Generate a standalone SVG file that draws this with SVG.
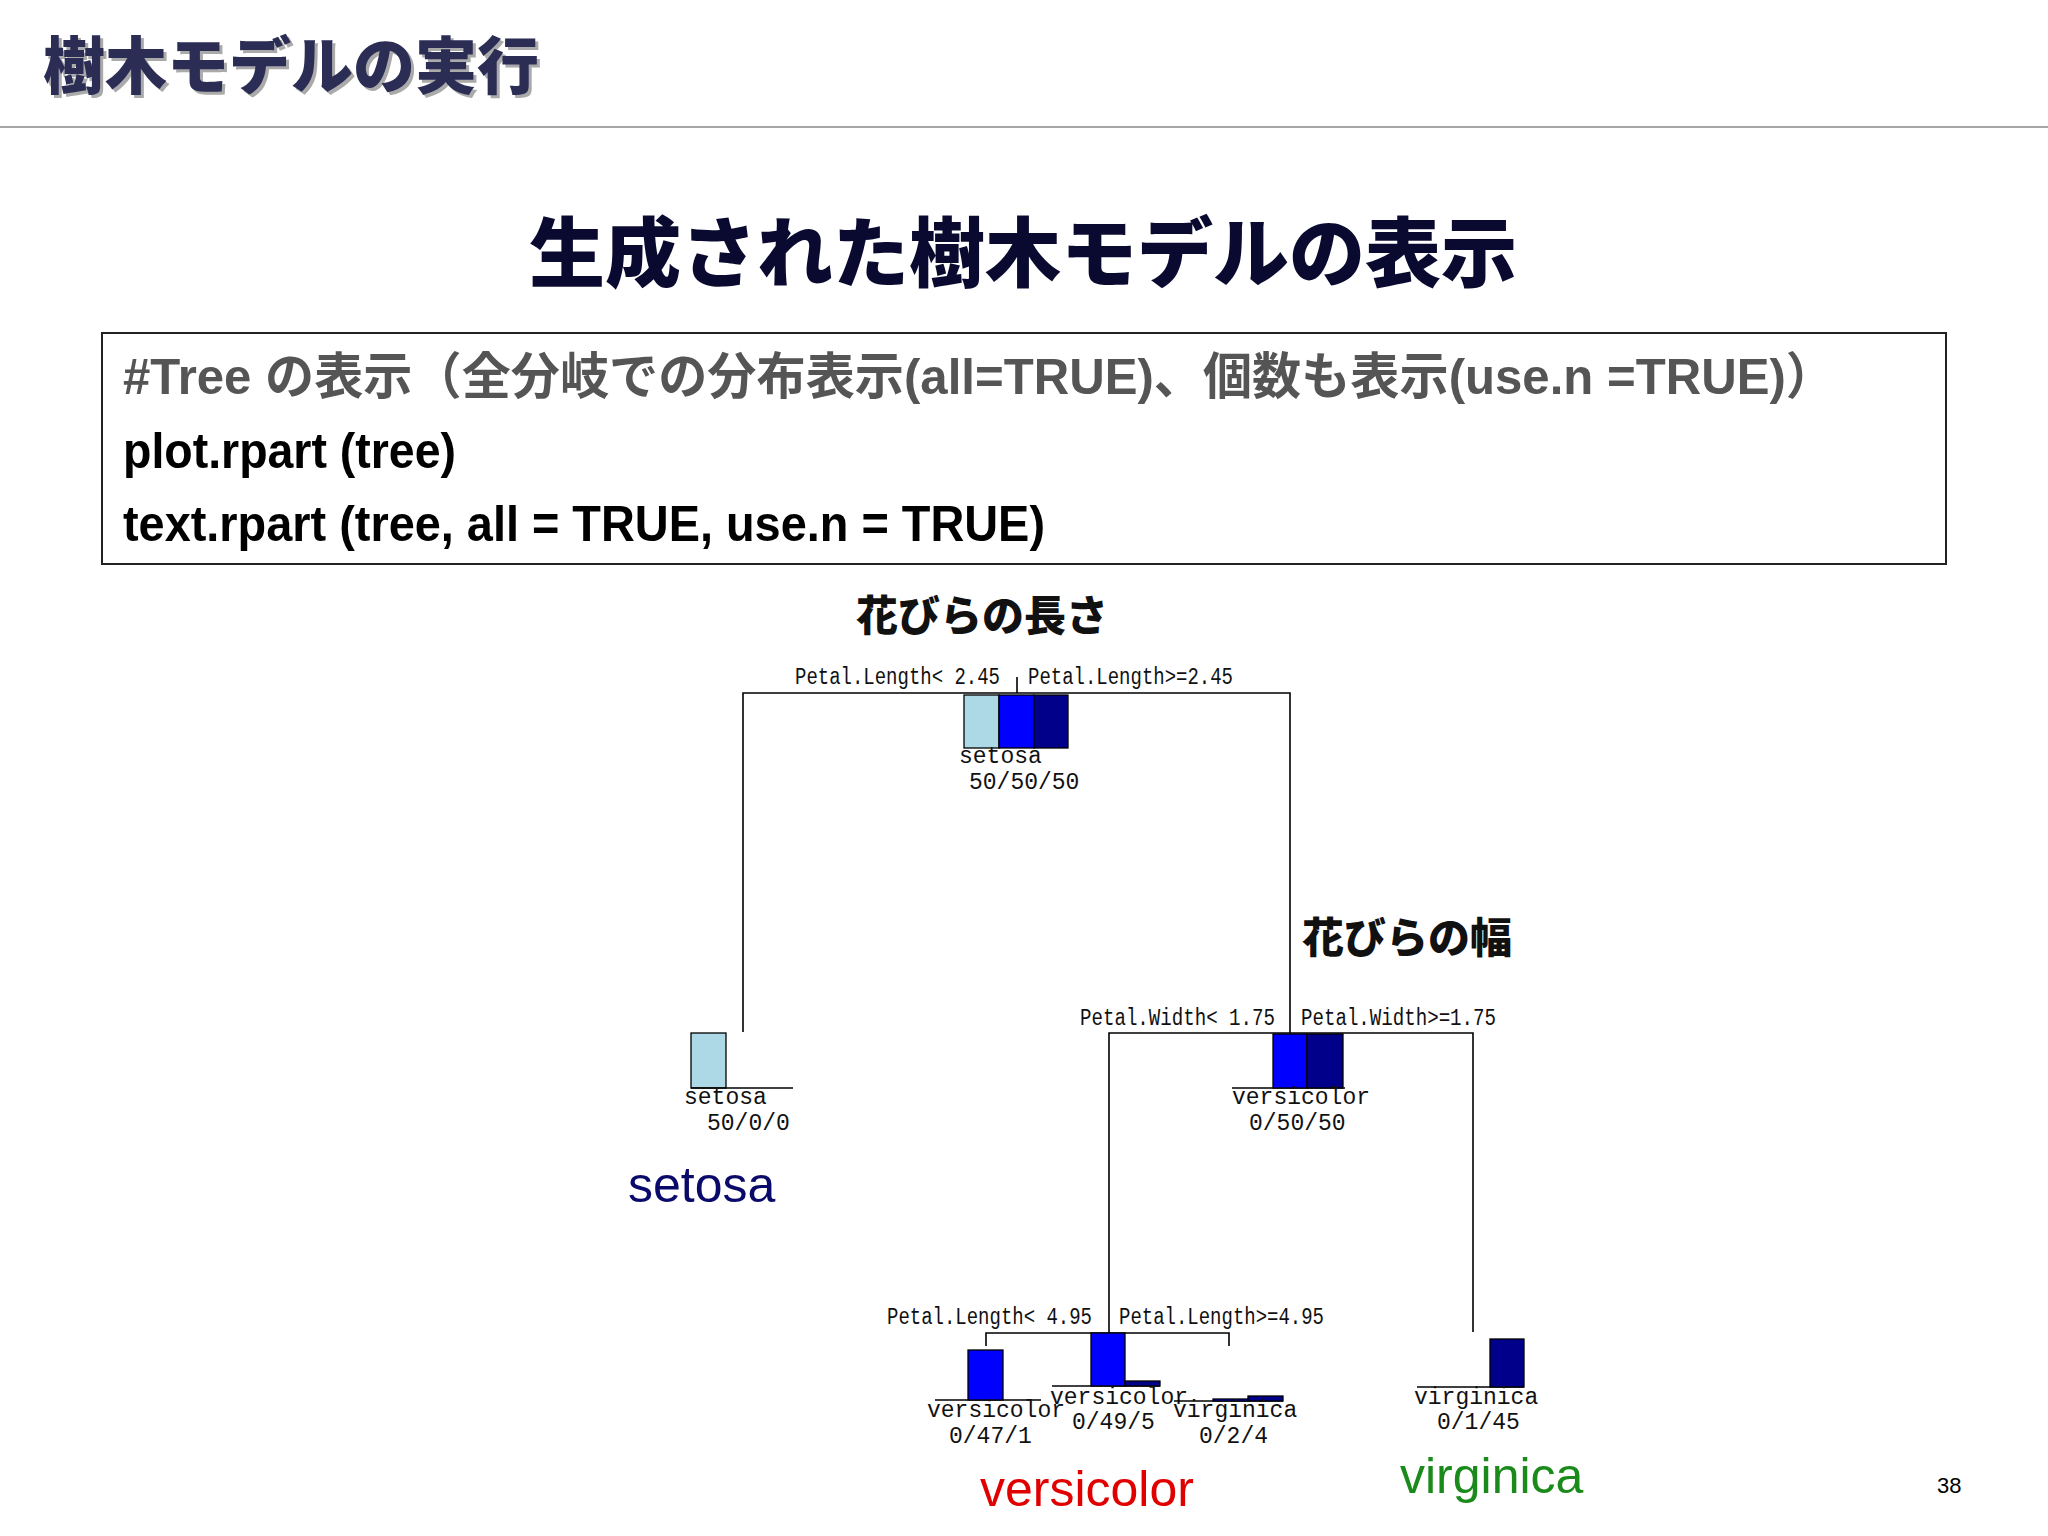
<svg xmlns="http://www.w3.org/2000/svg" width="2048" height="1536" viewBox="0 0 2048 1536">
<style>
.jp{font-family:"Noto Sans CJK JP",sans-serif;font-weight:900}
.code{font-family:"Liberation Sans","Noto Sans CJK JP",sans-serif;font-size:50px}
.s{font-family:"Liberation Mono",monospace;font-size:23px;fill:#111}
.big{font-family:"Liberation Sans",sans-serif;font-size:50px}
.ln{stroke:#000;stroke-width:1.6;fill:none}
.b{stroke:#000;stroke-width:1.3}
</style>
<rect width="2048" height="1536" fill="#fff"/>
<text x="46" y="92" class="jp" font-size="62" fill="#aaa">樹木モデルの実行</text>
<text x="43" y="89" class="jp" font-size="62" fill="#2b2d55">樹木モデルの実行</text>
<line x1="0" y1="127" x2="2048" y2="127" stroke="#888" stroke-width="1.5"/>
<text x="1023" y="281" class="jp" font-size="76" fill="#0a0a30" text-anchor="middle">生成された樹木モデルの表示</text>
<rect x="102" y="333" width="1844" height="231" fill="none" stroke="#222" stroke-width="2"/>
<text x="123" y="394" class="code" fill="#555" font-weight="bold" textLength="1712" lengthAdjust="spacingAndGlyphs">#Tree の表示（全分岐での分布表示(all=TRUE)、個数も表示(use.n =TRUE)）</text>
<text x="123" y="468" class="code" fill="#000" font-weight="bold" textLength="333" lengthAdjust="spacingAndGlyphs">plot.rpart (tree)</text>
<text x="123" y="541" class="code" fill="#000" font-weight="bold" textLength="922" lengthAdjust="spacingAndGlyphs">text.rpart (tree, all = TRUE, use.n = TRUE)</text>
<text x="982" y="631" class="jp" font-size="42" fill="#111" text-anchor="middle">花びらの長さ</text>
<text x="1302" y="953" class="jp" font-size="42" fill="#111">花びらの幅</text>
<g id="connectors">
<path class="ln" d="M743 1032V693H1290V1033M1017 677V693"/>
<path class="ln" d="M1109 1333V1033H1473V1332"/>
<path class="ln" d="M986 1346V1333H1229V1346"/>
</g>
<g id="root">
<text x="1000" y="684" class="s" text-anchor="end" textLength="205" lengthAdjust="spacingAndGlyphs">Petal.Length&lt; 2.45</text>
<text x="1028" y="684" class="s" textLength="205" lengthAdjust="spacingAndGlyphs">Petal.Length&gt;=2.45</text>
<rect class="b" x="964" y="695" width="35" height="53" fill="#add8e6"/>
<rect class="b" x="999" y="695" width="35" height="53" fill="#0000ff"/>
<rect class="b" x="1034" y="695" width="34" height="53" fill="#00008b"/>
<text x="959" y="763" class="s">setosa</text>
<text x="969" y="789" class="s">50/50/50</text>
</g>
<g id="setosa-leaf">
<rect class="b" x="691" y="1033" width="35" height="55" fill="#add8e6"/>
<line class="ln" x1="691" y1="1088" x2="793" y2="1088"/>
<text x="684" y="1104" class="s">setosa</text>
<text x="707" y="1130" class="s">50/0/0</text>
<text x="628" y="1202" class="big" fill="#0a0a6a">setosa</text>
</g>
<g id="node2">
<text x="1275" y="1025" class="s" text-anchor="end" textLength="195" lengthAdjust="spacingAndGlyphs">Petal.Width&lt; 1.75</text>
<text x="1301" y="1025" class="s" textLength="195" lengthAdjust="spacingAndGlyphs">Petal.Width&gt;=1.75</text>
<line class="ln" x1="1232" y1="1088" x2="1345" y2="1088"/>
<rect class="b" x="1273" y="1034" width="34" height="54" fill="#0000ff"/>
<rect class="b" x="1307" y="1034" width="36" height="54" fill="#00008b"/>
<text x="1232" y="1104" class="s">versicolor</text>
<text x="1249" y="1130" class="s">0/50/50</text>
</g>
<g id="node3">
<text x="1092" y="1324" class="s" text-anchor="end" textLength="205" lengthAdjust="spacingAndGlyphs">Petal.Length&lt; 4.95</text>
<text x="1119" y="1324" class="s" textLength="205" lengthAdjust="spacingAndGlyphs">Petal.Length&gt;=4.95</text>
<line class="ln" x1="1052" y1="1386" x2="1160" y2="1386"/>
<rect class="b" x="1091" y="1333" width="34" height="53" fill="#0000ff"/>
<rect class="b" x="1125" y="1381" width="35" height="5" fill="#00008b"/>
<text x="1050" y="1404" class="s">versicolor</text>
<text x="1072" y="1429" class="s">0/49/5</text>
</g>
<g id="leaf-versicolor">
<line class="ln" x1="935" y1="1400" x2="1041" y2="1400"/>
<rect class="b" x="968" y="1350" width="35" height="50" fill="#0000ff"/>
<text x="927" y="1417" class="s">versicolor</text>
<text x="949" y="1443" class="s">0/47/1</text>
<text x="980" y="1506" class="big" fill="#e00000">versicolor</text>
</g>
<g id="leaf-virginica-small">
<line class="ln" x1="1174" y1="1401" x2="1283" y2="1401"/>
<rect class="b" x="1213" y="1399" width="35" height="2" fill="#0000ff"/>
<rect class="b" x="1248" y="1396" width="35" height="5" fill="#00008b"/>
<text x="1173" y="1417" class="s">virginica</text>
<text x="1199" y="1443" class="s">0/2/4</text>
</g>
<g id="leaf-virginica">
<line class="ln" x1="1417" y1="1387" x2="1524" y2="1387"/>
<rect class="b" x="1490" y="1339" width="34" height="48" fill="#00008b"/>
<text x="1414" y="1404" class="s">virginica</text>
<text x="1437" y="1429" class="s">0/1/45</text>
<text x="1400" y="1493" class="big" fill="#1a8a1a">virginica</text>
</g>
<text x="1937" y="1493" font-family="Liberation Sans,sans-serif" font-size="22" fill="#000">38</text>
</svg>
